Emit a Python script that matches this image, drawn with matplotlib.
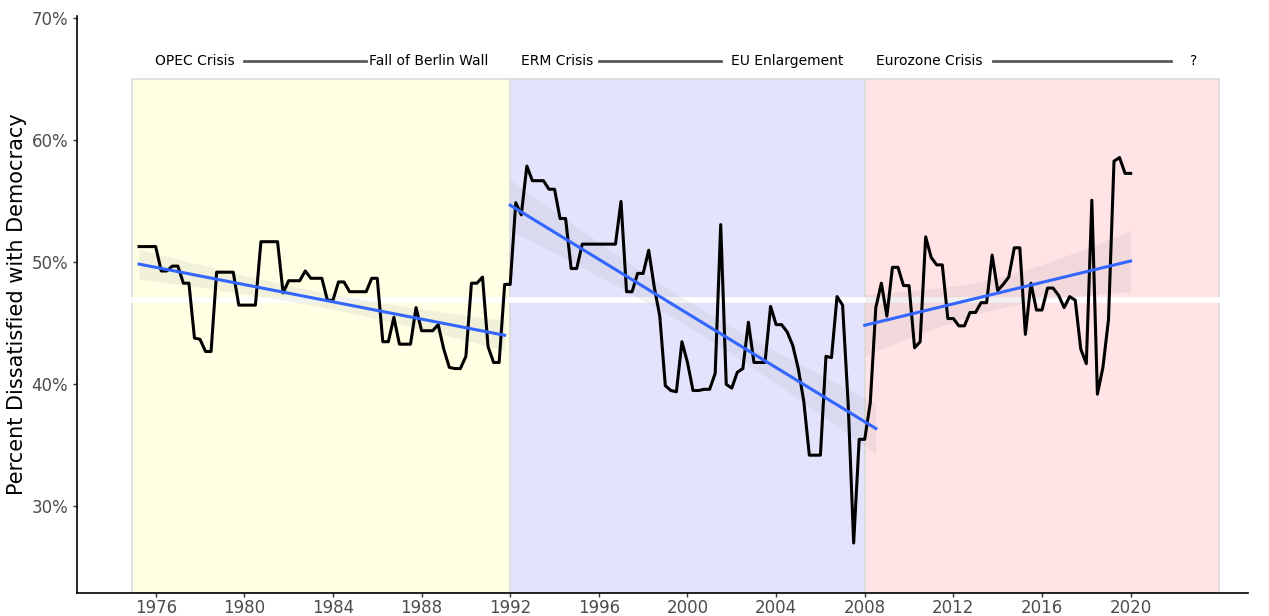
import numpy as np
import matplotlib
matplotlib.use('Agg')
import matplotlib.pyplot as plt

# percent dissatisfied with democracy, quarterly from 1975.25 to 2020.0
vals = [51.3, 51.3, 51.3,                 # 1975
        51.3, 49.3, 49.3, 49.7,           # 1976
        49.7, 48.3, 48.3, 43.8,           # 1977
        43.7, 42.7, 42.7, 49.2,           # 1978
        49.2, 49.2, 49.2, 46.5,           # 1979
        46.5, 46.5, 46.5, 51.7,           # 1980
        51.7, 51.7, 51.7, 47.5,           # 1981
        48.5, 48.5, 48.5, 49.3,           # 1982
        48.7, 48.7, 48.7, 46.9,           # 1983
        46.9, 48.4, 48.4, 47.6,           # 1984
        47.6, 47.6, 47.6, 48.7,           # 1985
        48.7, 43.5, 43.5, 45.5,           # 1986
        43.3, 43.3, 43.3, 46.3,           # 1987
        44.4, 44.4, 44.4, 44.9,           # 1988
        42.9, 41.4, 41.3, 41.3,           # 1989
        42.3, 48.3, 48.3, 48.8,           # 1990
        43.1, 41.8, 41.8, 48.2,           # 1991
        48.2, 54.9, 53.9, 57.9,           # 1992
        56.7, 56.7, 56.7, 56.0,           # 1993
        56.0, 53.6, 53.6, 49.5,           # 1994
        49.5, 51.5, 51.5, 51.5,           # 1995
        51.5, 51.5, 51.5, 51.5,           # 1996
        55.0, 47.6, 47.6, 49.1,           # 1997
        49.1, 51.0, 48.0, 45.6,           # 1998
        39.9, 39.5, 39.4, 43.5,           # 1999
        41.8, 39.5, 39.5, 39.6,           # 2000
        39.6, 40.9, 53.1, 40.0,           # 2001
        39.7, 41.0, 41.3, 45.1,           # 2002
        41.8, 41.8, 41.8, 46.4,           # 2003
        44.9, 44.9, 44.3, 43.2,           # 2004
        41.3, 38.6, 34.2, 34.2,           # 2005
        34.2, 42.3, 42.2, 47.2,           # 2006
        46.5, 38.5, 27.0, 35.5,           # 2007
        35.5, 38.5, 46.3, 48.3,           # 2008
        45.6, 49.6, 49.6, 48.1,           # 2009
        48.1, 43.0, 43.5, 52.1,           # 2010
        50.4, 49.8, 49.8, 45.4,           # 2011
        45.4, 44.8, 44.8, 45.9,           # 2012
        45.9, 46.7, 46.7, 50.6,           # 2013
        47.7, 48.2, 48.8, 51.2,           # 2014
        51.2, 44.1, 48.3, 46.1,           # 2015
        46.1, 47.9, 47.9, 47.3,           # 2016
        46.3, 47.2, 46.9, 42.9,           # 2017
        41.7, 55.1, 39.2, 41.4,           # 2018
        45.3, 58.3, 58.6, 57.3,           # 2019
        57.3]                             # 2020
years = 1975.25 + 0.25 * np.arange(len(vals))
vals = np.array(vals)

# shaded eras
era_start = [1974.95, 1992, 2008]
era_end = [1992, 2008, 2024]
era_colors = ['#FFFFE4', '#E3E3FC', '#FFE3E5']
# trend fit windows
fit_start = [1975, 1992, 2008]
fit_end = [1991.75, 2008.5, 2020]
# era labels
left_labels = ['OPEC Crisis', 'ERM Crisis', 'Eurozone Crisis']
left_x = [1977.75, 1994.1, 2010.9]
right_labels = ['Fall of Berlin Wall', 'EU Enlargement', '?']
right_x = [1988.3, 2004.5, 2022.85]
conn_start = [1980.0, 1996.0, 2013.8]
conn_end = [1985.5, 2001.5, 2021.8]
avg_line = 46.9

fig = plt.figure(figsize=(12.69, 6.16), dpi=100)
ax = fig.add_axes([0.0607, 0.0373, 0.9228, 0.9367])
ax.set_xlim(1972.45, 2025.3)
ax.set_ylim(22.9, 70.2)

for s, e, c in zip(era_start, era_end, era_colors):
    ax.axvspan(s, e, ymin=0, ymax=(65.05 - 22.9) / (70.2 - 22.9),
               facecolor=c, edgecolor='#dcdcdc', lw=1.2, zorder=0)

ax.axhline(avg_line, color='white', lw=4, zorder=1)

for s, e in zip(fit_start, fit_end):
    m = (years >= s) & (years <= e)
    x, y = years[m], vals[m]
    b, a = np.polyfit(x, y, 1)
    xs = np.linspace(x.min(), x.max(), 100)
    fit = a + b * xs
    resid = y - (a + b * x)
    n = len(x)
    se = np.sqrt(np.sum(resid ** 2) / (n - 2))
    band = 2.0 * se * np.sqrt(1 / n + (xs - x.mean()) ** 2 / np.sum((x - x.mean()) ** 2))
    ax.fill_between(xs, fit - band, fit + band, color='#999999', alpha=0.13, lw=0, zorder=2)
    ax.plot(xs, fit, color='#3366FF', lw=2.2, zorder=4)

ax.plot(years, vals, color='black', lw=2.2, zorder=3)

for t, xx in zip(left_labels, left_x):
    ax.text(xx, 66.5, t, ha='center', va='center', fontsize=10)
for t, xx in zip(right_labels, right_x):
    ax.text(xx, 66.5, t, ha='center', va='center', fontsize=10)
for s, e in zip(conn_start, conn_end):
    ax.plot([s, e], [66.5, 66.5], color='#595959', lw=2)

ax.set_xticks(np.arange(1976, 2021, 4))
ax.set_yticks([30, 40, 50, 60, 70])
ax.set_yticklabels(['30%', '40%', '50%', '60%', '70%'])
ax.tick_params(labelsize=12, labelcolor='#4d4d4d', length=3, width=1, color='#333333')
ax.tick_params(axis='x', pad=1.5)
ax.set_ylabel('Percent Dissatisfied with Democracy', fontsize=15, labelpad=3)
for side in ['top', 'right']:
    ax.spines[side].set_visible(False)
for side in ['left', 'bottom']:
    ax.spines[side].set_linewidth(1.2)

fig.savefig('out.png', dpi=100)
